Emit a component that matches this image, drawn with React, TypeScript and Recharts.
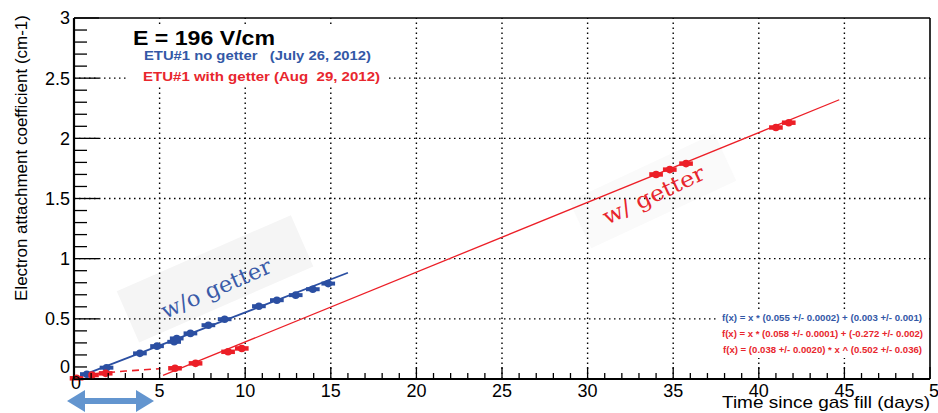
import { ScatterChart, Scatter, XAxis, YAxis, ErrorBar, ReferenceLine } from 'recharts';

// ETU#1 without getter (July 26, 2012)
const blueDays = [0.75, 1.9, 3.85, 4.85, 5.85, 6.0, 6.8, 7.85, 8.8, 10.8, 11.85, 12.95, 13.95, 14.85];
const blueCoef = [0.04, 0.094, 0.213, 0.273, 0.309, 0.337, 0.379, 0.447, 0.497, 0.605, 0.655, 0.697, 0.746, 0.793];

// ETU#1 with getter (Aug 29, 2012)
const redDays = [0.15, 1.05, 1.85, 5.9, 7.1, 9.0, 9.8, 34.0, 34.8, 35.75, 41.0, 41.75];
const redCoef = [0.006, 0.033, 0.047, 0.089, 0.13, 0.226, 0.254, 1.7, 1.74, 1.79, 2.09, 2.13];

// horizontal error (days) on every measurement
const dayErr = 0.4;

// fit curves
const blueFitDays = [0.45, 16.0];
const blueFitCoef = [0.028, 0.883];
const redFitDays = [5.2, 44.7];
const redFitCoef = [0.0296, 2.3206];
const redEarlyDays = [0.6, 1, 1.5, 2, 3, 4, 5];
const redEarlyCoef = [0.029, 0.038, 0.047, 0.054, 0.066, 0.076, 0.085];

const xTicks = [
  0, 1, 2, 3, 4, 5, 6, 7, 8, 9, 10, 11, 12, 13, 14, 15, 16, 17, 18, 19, 20, 21, 22, 23, 24, 25,
  26, 27, 28, 29, 30, 31, 32, 33, 34, 35, 36, 37, 38, 39, 40, 41, 42, 43, 44, 45, 46, 47, 48, 49, 50,
];
const yTicks = [
  0, 0.1, 0.2, 0.3, 0.4, 0.5, 0.6, 0.7, 0.8, 0.9, 1, 1.1, 1.2, 1.3, 1.4, 1.5, 1.6, 1.7, 1.8, 1.9, 2,
  2.1, 2.2, 2.3, 2.4, 2.5, 2.6, 2.7, 2.8, 2.9, 3,
];
const xGrid = [5, 10, 15, 20, 25, 30, 35, 40, 45];
const yGrid = [0.5, 1, 1.5, 2, 2.5];

const BLUE = '#2b4fa2';
const RED = '#ec1f27';
const SANS = '"Liberation Sans", Arial, Helvetica, sans-serif';
const SERIF = '"DejaVu Serif", "Liberation Serif", serif';

const zip = (xs: number[], ys: number[]) => xs.map((x, i) => ({ x, y: ys[i], err: dayErr }));

const bluePts = zip(blueDays, blueCoef);
const redPts = zip(redDays, redCoef);
const blueFit = zip(blueFitDays, blueFitCoef);
const redFit = zip(redFitDays, redFitCoef);
const redEarly = zip(redEarlyDays, redEarlyCoef);

const noDot = () => <g />;

const dotOf = (color: string) => (p: any) => <circle cx={p.cx} cy={p.cy} r={3.8} fill={color} />;

const YTick = ({ x, y, payload }: any) => {
  const v = payload.value;
  const major = Math.round(v * 10) % 5 === 0;
  return (
    <g>
      <line x1={x} x2={x + (major ? 25 : 13)} y1={y} y2={y} stroke="#000" strokeWidth={1.3} />
      {major && (
        <text x={x - 4} y={v === 0 ? y - 12 : y} dy="0.36em" textAnchor="end" fontSize={18} fontFamily={SANS} fill="#000">
          {String(v)}
        </text>
      )}
    </g>
  );
};

const XTick = ({ x, y, payload }: any) => {
  const v = payload.value;
  const major = v % 5 === 0;
  return (
    <g>
      <line x1={x} x2={x} y1={y} y2={y - (major ? 12 : 6)} stroke="#000" strokeWidth={1.3} />
      {major && (
        <text x={v === 50 ? x + 9 : x + (v === 0 ? 2 : 0)} y={y + (v === 0 ? 10 : 18)} textAnchor="middle" fontSize={18} fontFamily={SANS} fill="#000">
          {String(v)}
        </text>
      )}
    </g>
  );
};

export default function App() {
  return (
    <div style={{ position: 'absolute', left: 0, top: 0, width: 938, height: 413, background: '#fff', overflow: 'hidden' }}>
      {/* soft highlight boxes behind the hand-written labels */}
      <svg width={938} height={413} style={{ position: 'absolute', left: 0, top: 0 }}>
        <rect x={-95} y={-38} width={190} height={56} fill="#f5f5f5" transform="translate(219,288) rotate(-23.6)" />
        <rect x={-80} y={-36} width={160} height={52} fill="#fafafa" transform="translate(657,200) rotate(-25)" />
      </svg>

      <ScatterChart width={938} height={413} margin={{ top: 18, right: 8, bottom: 0, left: 0 }} style={{ position: 'absolute', left: 0, top: 0 }}>
        <XAxis
          type="number"
          dataKey="x"
          domain={[0, 50]}
          ticks={xTicks}
          interval={0}
          tick={<XTick />}
          tickLine={false}
          tickSize={0}
          tickMargin={0}
          height={34}
          axisLine={{ stroke: '#000', strokeWidth: 2.2 }}
          allowDataOverflow
        />
        <YAxis
          type="number"
          dataKey="y"
          domain={[0, 3]}
          ticks={yTicks}
          interval={0}
          tick={<YTick />}
          tickLine={false}
          tickSize={0}
          tickMargin={0}
          width={74}
          axisLine={{ stroke: '#000', strokeWidth: 2.2 }}
          allowDataOverflow
        />
        {xGrid.map((v) => (
          <ReferenceLine key={'gx' + v} x={v} stroke="#000" strokeWidth={1.4} strokeDasharray="1.5 3.5" />
        ))}
        {yGrid.map((v) => (
          <ReferenceLine key={'gy' + v} y={v} stroke="#000" strokeWidth={1.4} strokeDasharray="1.5 3.5" />
        ))}
        <ReferenceLine y={3} stroke="#000" strokeWidth={1.6} />
        <ReferenceLine x={50} stroke="#000" strokeWidth={1.6} />

        <Scatter data={blueFit} line={{ stroke: BLUE, strokeWidth: 1.8 }} shape={noDot} isAnimationActive={false} />
        <Scatter data={redFit} line={{ stroke: RED, strokeWidth: 1.3 }} shape={noDot} isAnimationActive={false} />
        <Scatter
          data={redEarly}
          line={{ stroke: RED, strokeWidth: 1.6, strokeDasharray: '7 5' }}
          shape={noDot}
          isAnimationActive={false}
        />

        <Scatter data={bluePts} fill={BLUE} shape={dotOf(BLUE)} isAnimationActive={false}>
          <ErrorBar dataKey="err" direction="x" width={0} strokeWidth={4} stroke={BLUE} />
        </Scatter>
        <Scatter data={redPts} fill={RED} shape={dotOf(RED)} isAnimationActive={false}>
          <ErrorBar dataKey="err" direction="x" width={0} strokeWidth={4.5} stroke={RED} />
        </Scatter>
      </ScatterChart>

      <svg width={938} height={413} style={{ position: 'absolute', left: 0, top: 0, pointerEvents: 'none' }}>
        {/* title and legend pave */}
        <rect x={128} y={27} width={260} height={59} fill="#fff" />
        <text x={133} y={45} fontSize={21} fontWeight="bold" fontFamily={SANS} textLength={142} lengthAdjust="spacingAndGlyphs">
          E = 196 V/cm
        </text>
        <text x={144} y={60} fontSize={12} fontWeight="bold" fontFamily={SANS} fill="#3358a6" textLength={227} lengthAdjust="spacingAndGlyphs" style={{ whiteSpace: 'pre' }}>
          {'ETU#1 no getter   (July 26, 2012)'}
        </text>
        <text x={143} y={80.5} fontSize={12} fontWeight="bold" fontFamily={SANS} fill="#e8262d" textLength={237} lengthAdjust="spacingAndGlyphs" style={{ whiteSpace: 'pre' }}>
          {'ETU#1 with getter (Aug  29, 2012)'}
        </text>

        {/* fit results pave */}
        <rect x={718} y={310} width={209} height={48} fill="#fff" />
        <text x={722} y={321} fontSize={9} fontWeight="bold" fontFamily={SANS} fill="#3358a6" textLength={200} lengthAdjust="spacingAndGlyphs">
          f(x) = x * (0.055 +/- 0.0002) + (0.003 +/- 0.001)
        </text>
        <text x={722} y={337} fontSize={9} fontWeight="bold" fontFamily={SANS} fill="#e8262d" textLength={201} lengthAdjust="spacingAndGlyphs">
          f(x) = x * (0.058 +/- 0.0001) + (-0.272 +/- 0.002)
        </text>
        <text x={723} y={353} fontSize={9} fontWeight="bold" fontFamily={SANS} fill="#e8262d" textLength={199} lengthAdjust="spacingAndGlyphs">
          f(x) = (0.038 +/- 0.0020) * x ^ (0.502 +/- 0.036)
        </text>

        <text transform="translate(165,319) rotate(-23.6)" fontSize={22} fontFamily={SERIF} fill="#3a5ba8" textLength={118} lengthAdjust="spacingAndGlyphs">
          w/o getter
        </text>
        <text transform="translate(607,225) rotate(-25)" fontSize={22} fontFamily={SERIF} fill="#e8262d" textLength={110} lengthAdjust="spacingAndGlyphs">
          w/ getter
        </text>

        <text transform="translate(27,15) rotate(-90)" textAnchor="end" fontSize={17} fontFamily={SANS} fill="#000">
          Electron attachment coefficient (cm-1)
        </text>
        <text x={930} y={408} textAnchor="end" fontSize={17} fontFamily={SANS} fill="#000" textLength={208} lengthAdjust="spacingAndGlyphs">
          Time since gas fill (days)
        </text>

        <polygon
          points="67,401 85,390 85,398 136,398 136,390 154,401 136,412 136,404 85,404 85,412"
          fill="#6395cf"
        />
      </svg>
    </div>
  );
}
